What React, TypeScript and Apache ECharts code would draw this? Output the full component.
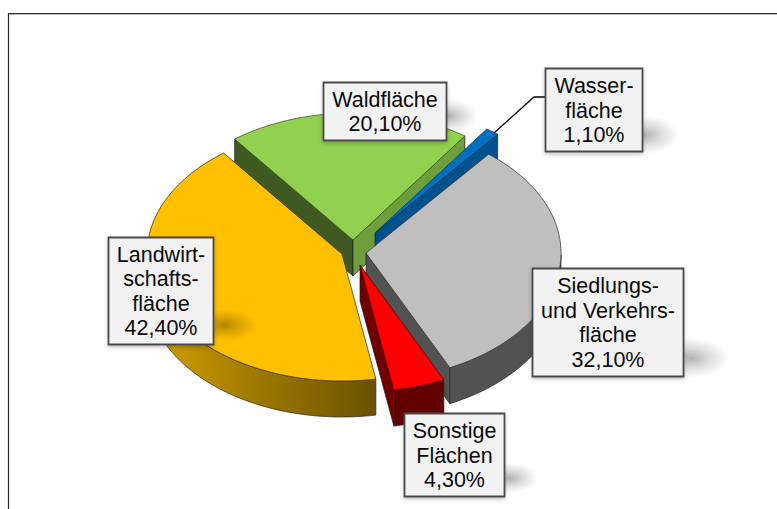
import React, { useEffect, useRef } from "react";
import * as echarts from "echarts";

const categories = [
  "Landwirt-\nschafts-\nfläche",
  "Waldfläche",
  "Wasser-\nfläche",
  "Siedlungs-\nund Verkehrs-\nfläche",
  "Sonstige\nFlächen",
];
const values = [42.4, 20.1, 1.1, 32.1, 4.3];
const drawOrder = [1, 0, 2, 3, 4];

const START_ANGLE = 80;
const RX = 195;
const RY = 127;
const DEPTH = 36;

const apex = [
  [342, 254],
  [353, 240],
  [375, 233],
  [366, 253],
  [360, 265],
];
const topColors = ["#FFC000", "#92D050", "#0070C0", "#BFBFBF", "#FF0000"];
const startSide = ["#000", "#3E5A22", "#000", "#000", "#000"];
const endSide = ["#000", "#6F9F3D", "#00518C", "#525252", "#6E0000"];
const outerSide: any[] = [
  new echarts.graphic.LinearGradient(0, 0, 1, 0, [
    { offset: 0, color: "#D6A200" },
    { offset: 0.5, color: "#9C7700" },
    { offset: 1, color: "#6A5100" },
  ]),
  "#000",
  "#00518C",
  "#525252",
  "#620000",
];
const outlines = ["#4A3800", "#3C5A20", "#003F70", "#3A3A3A", "#5A0000"];

const boxes = [
  [108, 237, 105, 107],
  [323, 82, 123, 58],
  [545, 68, 97, 83],
  [532, 268, 151, 108],
  [404, 413, 100, 83],
];
const smears = [
  [224, 325, 34, 16],
  [448, 116, 30, 17],
  [645, 135, 34, 19],
  [691, 358, 38, 20],
  [510, 478, 28, 15],
];

const total = values.reduce((s, v) => s + v, 0);
const pct = (v: number) => v.toFixed(2).replace(".", ",") + "%";

function sliceAngles(i: number) {
  let before = 0;
  for (let k = 0; k < i; k++) before += values[k];
  const t0 = START_ANGLE + (before / total) * 360;
  return [t0, t0 + (values[i] / total) * 360];
}

function renderSlice(params: any, api: any) {
  const i = drawOrder[params.dataIndex];
  const value = api.value(0);
  const [t0] = sliceAngles(i);
  const t1 = t0 + (value / total) * 360;
  const [cx, cy] = apex[i];
  const pt = (deg: number, dy = 0) => {
    const r = (deg * Math.PI) / 180;
    return [cx + RX * Math.cos(r), cy + RY * Math.sin(r) + dy];
  };
  const arc: number[][] = [];
  const n = Math.max(2, Math.ceil((t1 - t0) / 1.5));
  for (let k = 0; k <= n; k++) arc.push(pt(t0 + ((t1 - t0) * k) / n));

  const children: any[] = [];
  const radial = (t: number, fill: string) => {
    const o = pt(t);
    const b = pt(t, DEPTH);
    children.push({
      type: "polygon",
      shape: { points: [[cx, cy], o, b, [cx, cy + DEPTH]] },
      style: { fill, stroke: "#1c1c1c", lineWidth: 0.7 },
    });
  };
  if (Math.cos((t0 * Math.PI) / 180) < 0) radial(t0, startSide[i]);
  if (Math.cos((t1 * Math.PI) / 180) > 0) radial(t1, endSide[i]);

  const lower: number[][] = [];
  for (let k = 0; k <= n; k++) {
    const t = t0 + ((t1 - t0) * k) / n;
    if (Math.sin((t * Math.PI) / 180) >= 0) lower.push(pt(t));
  }
  if (lower.length > 1) {
    const pts = lower.concat(
      lower
        .slice()
        .reverse()
        .map((p) => [p[0], p[1] + DEPTH]),
    );
    children.push({
      type: "polygon",
      shape: { points: pts },
      style: { fill: outerSide[i], stroke: "#2a2a2a", lineWidth: 0.7 },
    });
  }
  children.push({
    type: "polygon",
    shape: { points: [[cx, cy], ...arc] },
    style: { fill: topColors[i], stroke: outlines[i], lineWidth: 0.8 },
  });
  return { type: "group", children };
}

export default function App() {
  const ref = useRef<HTMLDivElement>(null);
  useEffect(() => {
    const chart = echarts.init(ref.current!, undefined, { renderer: "svg", width: 777, height: 509 });
    const graphics: any[] = [
      { type: "line", z: 1, shape: { x1: 8, y1: 14.5, x2: 777, y2: 14.5 }, style: { stroke: "#BDBDBD", lineWidth: 1 } },
      { type: "line", z: 1, shape: { x1: 8, y1: 13.5, x2: 777, y2: 13.5 }, style: { stroke: "#2B2B2B", lineWidth: 1 } },
      { type: "line", z: 1, shape: { x1: 8.5, y1: 13, x2: 8.5, y2: 509 }, style: { stroke: "#2B2B2B", lineWidth: 1.2 } },
      {
        type: "polyline",
        z: 10,
        shape: { points: [[494, 133], [534, 97], [545, 97]] },
        style: { fill: "none", stroke: "#000", lineWidth: 1.3 },
      },
    ];
    smears.forEach(([x, y, rx, ry]) => {
      graphics.push({
        type: "ellipse",
        z: 11,
        shape: { cx: x, cy: y, rx, ry },
        style: {
          fill: new echarts.graphic.RadialGradient(0.5, 0.5, 0.5, [
            { offset: 0, color: "rgba(0,0,0,0.3)" },
            { offset: 0.5, color: "rgba(0,0,0,0.13)" },
            { offset: 1, color: "rgba(0,0,0,0)" },
          ]),
        },
      });
    });
    categories.forEach((c, i) => {
      const [x, y, w, h] = boxes[i];
      graphics.push({
        type: "rect",
        z: 12,
        shape: { x: x + 0.5, y: y + 0.5, width: w, height: h },
        style: {
          fill: "#F2F2F2",
          stroke: "#4A4A4A",
          lineWidth: 1.8,
          shadowBlur: 4,
          shadowOffsetY: 2,
          shadowColor: "rgba(0,0,0,0.22)",
        },
      });
      graphics.push({
        type: "text",
        z: 13,
        x: x + w / 2 + 0.5,
        y: y + h / 2 + 1,
        style: {
          text: c + "\n" + pct(values[i]),
          fontFamily: "Liberation Sans",
          fontSize: 21.5,
          lineHeight: 24.5,
          fill: "#0A0A0A",
          align: "center",
          verticalAlign: "middle",
        },
      });
    });
    chart.setOption({
      animation: false,
      backgroundColor: "#fff",
      graphic: graphics,
      series: [
        {
          type: "custom",
          coordinateSystem: "none",
          renderItem: renderSlice,
          data: drawOrder.map((i) => ({ name: categories[i].replace(/-?\n/g, ""), value: [values[i]] })),
          silent: true,
        },
      ],
    });
    return () => chart.dispose();
  }, []);
  return <div ref={ref} style={{ position: "absolute", left: 0, top: 0, width: 777, height: 509 }} />;
}
